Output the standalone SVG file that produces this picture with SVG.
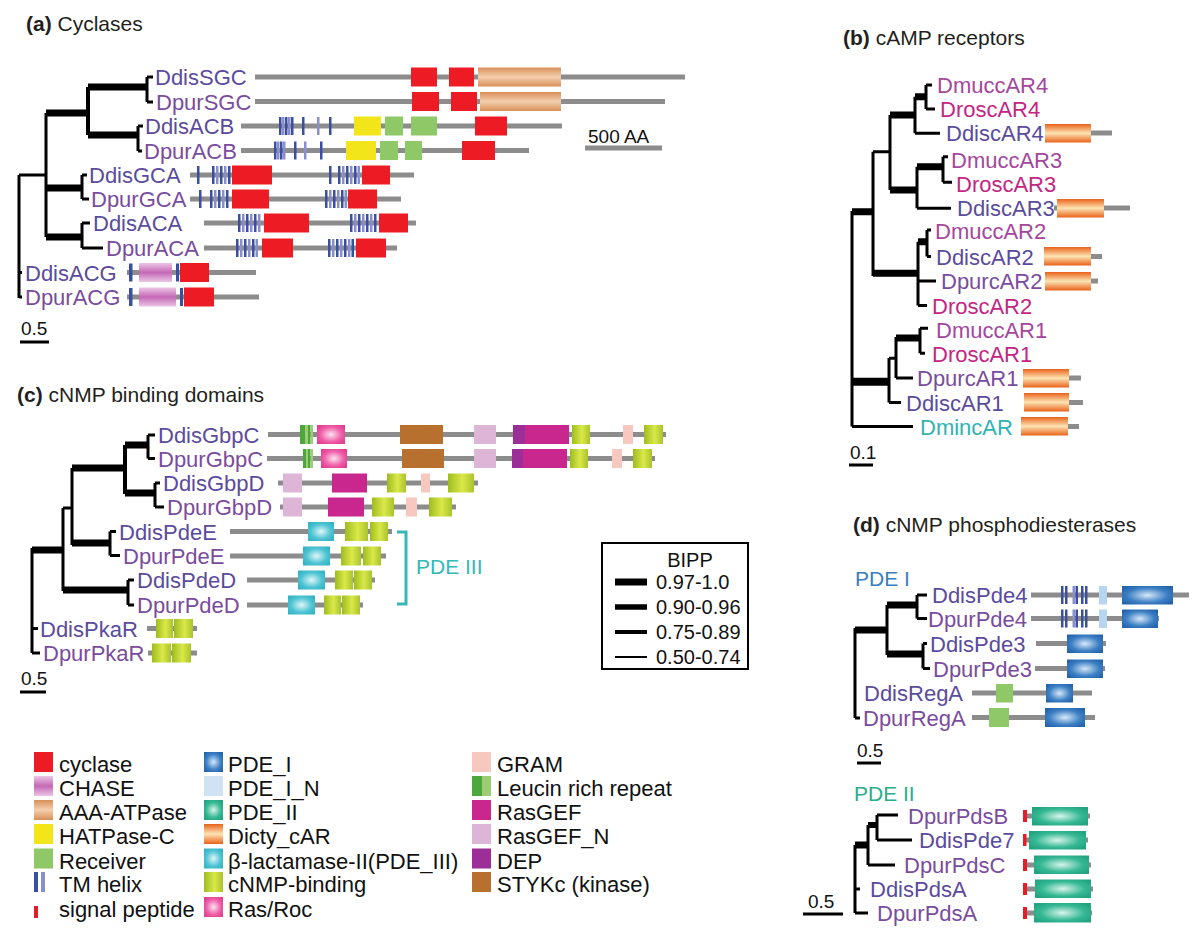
<svg xmlns="http://www.w3.org/2000/svg" width="1200" height="941" viewBox="0 0 1200 941">
<defs>
<style>
text{font-family:"Liberation Sans",Arial,Helvetica,sans-serif}
.lab{font-size:22px}
.ttl{font-size:21px;fill:#231f20}
.ttl tspan.b{font-weight:bold}
.leg{font-size:22px;fill:#111}
.sc{font-size:19px;fill:#111}
.dd{fill:#5a4b9d}
.dp{fill:#7a4c9e}
.dm{fill:#a4479d}
.dr{fill:#c42585}
.dn{fill:#2fb3b3}
.pl{stroke:#8c8c8c;stroke-width:5}
.cyc{fill:#ed1c24}
.hat{fill:#f2e61a}
.rec{fill:#8fc866}
.tm{fill:#3a4ea2}
.tml{fill:#8a8fcb}
.sp{fill:#e31e2a}
.pn{fill:#b5d5f0}
.gram{fill:#f6c8bf}
.lrd{fill:#4ea63f}
.lrl{fill:#9ccd74}
.rgef{fill:#c9268e}
.rgn{fill:#dcb5d7}
.dep{fill:#9b2f97}
.sty{fill:#b8702f}
.chase{fill:url(#gChase)}
.aaa{fill:url(#gAAA)}
.car{fill:url(#gCar)}
.p1{fill:url(#gP1)}
.p2{fill:url(#gP2)}
.bl{fill:url(#gBeta)}
.cn{fill:url(#gCn)}
.ras{fill:url(#gRas)}
.tr{stroke:#000;fill:none;stroke-width:3}
.k{stroke:#000;fill:none;stroke-width:7}
</style>
<linearGradient id="gChase" x1="0" y1="0" x2="0" y2="1"><stop offset="0" stop-color="#ecc6e5"/><stop offset="0.5" stop-color="#c468b6"/><stop offset="1" stop-color="#ecc6e5"/></linearGradient>
<linearGradient id="gAAA" x1="0" y1="0" x2="0" y2="1"><stop offset="0" stop-color="#d88f58"/><stop offset="0.5" stop-color="#f4cfae"/><stop offset="1" stop-color="#d88f58"/></linearGradient>
<linearGradient id="gCar" x1="0" y1="0" x2="0" y2="1"><stop offset="0" stop-color="#e9621a"/><stop offset="0.5" stop-color="#fde4b4"/><stop offset="1" stop-color="#e9621a"/></linearGradient>
<linearGradient id="gCn" x1="0" y1="0" x2="1" y2="0"><stop offset="0" stop-color="#9dbc20"/><stop offset="0.55" stop-color="#dbe849"/><stop offset="1" stop-color="#a8c42b"/></linearGradient>
<radialGradient id="gP1" cx="0.5" cy="0.5" r="0.6"><stop offset="0" stop-color="#d6e8f8"/><stop offset="0.65" stop-color="#3d80c4"/><stop offset="1" stop-color="#2665ad"/></radialGradient>
<radialGradient id="gP2" cx="0.5" cy="0.5" r="0.6"><stop offset="0" stop-color="#d6f4ea"/><stop offset="0.65" stop-color="#35b894"/><stop offset="1" stop-color="#24a582"/></radialGradient>
<radialGradient id="gBeta" cx="0.5" cy="0.5" r="0.6"><stop offset="0" stop-color="#e0f6f9"/><stop offset="0.65" stop-color="#4ec4d3"/><stop offset="1" stop-color="#36b4c4"/></radialGradient>
<radialGradient id="gRas" cx="0.5" cy="0.5" r="0.6"><stop offset="0" stop-color="#fde2f0"/><stop offset="0.65" stop-color="#ef5ca8"/><stop offset="1" stop-color="#e2408f"/></radialGradient>
</defs>
<rect width="1200" height="941" fill="#fff"/>

<!-- Titles -->
<text class="ttl" x="26" y="31"><tspan class="b">(a)</tspan> Cyclases</text>
<text class="ttl" x="843" y="45"><tspan class="b">(b)</tspan> cAMP receptors</text>
<text class="ttl" x="17" y="402"><tspan class="b">(c)</tspan> cNMP binding domains</text>
<text class="ttl" x="853" y="532"><tspan class="b">(d)</tspan> cNMP phosphodiesterases</text>

<!-- Connectors (trees) -->
<g id="connectors">
 <!-- (a) -->
 <path class="tr" d="M19,175V298M19,175H46M46,113V237M147,77V102M147,77H153M147,102H153M138,126V151M138,126H143M138,151H142M82,175V199M82,175H87M82,199H89M82,223V248M82,223H90M82,248H103M19,272.5H22M19,297H22"/>
 <path class="tr" style="stroke-width:4" d="M88,87V135"/>
 <path class="k" d="M46,113H88M46,188H82M46,237H82M88,87H147M88,135H138"/>
 <!-- (b) -->
 <path class="tr" d="M852,211V426.5M852,426.5H913M873,151.7V276M873,151.7H891M890,115V190M915,96.7V133.3M915,133.3H940M926,85V109M926,85H932M926,109H935M917,166.7V208.3M917,208.3H951M943,156.7V182.3M943,156.7H948M943,182.3H952M918,241.7V305.5M918,281H936M918,305.5H927M927,230V256.5M927,230H931M927,256.5H931M889,358V402.5M889,402.5H901M889,358.3H897M896,337V378M896,378H913M920,328.3V353.3M920,328.3H928M920,353.3H925"/>
 <path class="k" d="M852,211.7H874M890,115H916M890,190H918M915,96.7H927M917,166.7H944M873,273.3H919M918,241.7H928M896,338H921"/>
 <path class="k" style="stroke-width:8" d="M852,381.7H890"/>
 <!-- (c) -->
 <path class="tr" d="M32,548V653M32,628.5H38M32,653H40M63,508V591M63,508H72M72,468V545M148,435V458.5M148,435H155M148,458.5H155M155,483V507M155,483H160M155,507H164M110,531.5V555.5M110,531.5H116M110,555.5H120M128,580V605M128,580H134M128,605H134"/>
 <path class="tr" style="stroke-width:4" d="M125,445V494"/>
 <path class="k" d="M32,550H64M63,590H129M72,468H126M72,543H111M125,445H149M125,493H156"/>
 <!-- (d) PDE I -->
 <path class="tr" d="M855,628V718M855,718H860M887,605V655M917,595V618.5M917,595H927M917,618.5H927M923,643.5V668.5M923,643.5H927M923,668.5H930"/>
 <path class="k" d="M855,630H888M887,605H918M887,654H924"/>
 <!-- (d) PDE II -->
 <path class="tr" d="M855,845V913M855,913H868M855,889H860M868,825V865M868,865H895M877,815V840M877,815H898M877,840H912"/>
 <path class="k" d="M855,845H869"/>
 <path class="k" style="stroke-width:6" d="M868,825H877"/>
</g>

<!-- (a) Cyclases nodes -->
<g id="a-DdisSGC">
 <text class="lab dd" x="155" y="85">DdisSGC</text>
 <line class="pl" x1="255" y1="77" x2="685" y2="77"/>
 <rect class="cyc" x="411" y="67.5" width="26" height="19"/><rect class="cyc" x="449" y="67.5" width="25" height="19"/><rect class="aaa" x="478" y="67.5" width="83" height="19"/>
</g>
<g id="a-DpurSGC">
 <text class="lab dp" x="156" y="109.5">DpurSGC</text>
 <line class="pl" x1="255" y1="101.5" x2="665" y2="101.5"/>
 <rect class="cyc" x="412" y="92" width="27" height="19"/><rect class="cyc" x="451" y="92" width="26" height="19"/><rect class="aaa" x="480" y="92" width="81" height="19"/>
</g>
<g id="a-DdisACB">
 <text class="lab dd" x="145" y="134">DdisACB</text>
 <line class="pl" x1="241" y1="126" x2="562" y2="126"/>
 <rect class="tm" x="279" y="117" width="2.5" height="18"/><rect class="tml" x="282" y="117" width="2.5" height="18"/><rect class="tm" x="285" y="117" width="2.5" height="18"/><rect class="tml" x="288" y="117" width="2.5" height="18"/><rect class="tm" x="291" y="117" width="2.5" height="18"/><rect class="tm" x="302" y="117" width="2.5" height="18"/><rect class="tml" x="317" y="117" width="2.5" height="18"/><rect class="tm" x="329" y="117" width="2.5" height="18"/>
 <rect class="hat" x="354" y="116.5" width="27" height="19"/><rect class="rec" x="385" y="116.5" width="18" height="19"/><rect class="rec" x="411" y="116.5" width="26" height="19"/><rect class="cyc" x="475" y="116.5" width="32" height="19"/>
</g>
<g id="a-DpurACB">
 <text class="lab dp" x="144" y="158.5">DpurACB</text>
 <line class="pl" x1="241" y1="150.5" x2="529" y2="150.5"/>
 <rect class="tm" x="274" y="141.5" width="2.5" height="18"/><rect class="tml" x="277" y="141.5" width="2.5" height="18"/><rect class="tm" x="280" y="141.5" width="2.5" height="18"/><rect class="tml" x="283" y="141.5" width="2.5" height="18"/><rect class="tm" x="294" y="141.5" width="2.5" height="18"/><rect class="tml" x="304" y="141.5" width="2.5" height="18"/><rect class="tm" x="320" y="141.5" width="2.5" height="18"/>
 <rect class="hat" x="346" y="141" width="30" height="19"/><rect class="rec" x="380" y="141" width="18" height="19"/><rect class="rec" x="405" y="141" width="17" height="19"/><rect class="cyc" x="462" y="141" width="33" height="19"/>
</g>
<g id="a-DdisGCA">
 <text class="lab dd" x="89" y="183">DdisGCA</text>
 <line class="pl" x1="190" y1="175" x2="414" y2="175"/>
 <rect class="tm" x="197" y="166" width="2.5" height="18"/><rect class="tm" x="212" y="166" width="2.5" height="18"/><rect class="tml" x="216" y="166" width="2.5" height="18"/><rect class="tm" x="220" y="166" width="2.5" height="18"/><rect class="tml" x="224" y="166" width="2.5" height="18"/><rect class="tm" x="228" y="166" width="2.5" height="18"/>
 <rect class="cyc" x="232" y="165.5" width="40" height="19"/>
 <rect class="tm" x="329" y="166" width="2.5" height="18"/><rect class="tm" x="338" y="166" width="2.5" height="18"/><rect class="tml" x="342" y="166" width="2.5" height="18"/><rect class="tm" x="346" y="166" width="2.5" height="18"/><rect class="tml" x="350" y="166" width="2.5" height="18"/><rect class="tm" x="354" y="166" width="2.5" height="18"/><rect class="tml" x="357.5" y="166" width="2.5" height="18"/>
 <rect class="cyc" x="362" y="165.5" width="28" height="19"/>
</g>
<g id="a-DpurGCA">
 <text class="lab dp" x="91" y="207">DpurGCA</text>
 <line class="pl" x1="190" y1="199" x2="401" y2="199"/>
 <rect class="tm" x="199" y="190" width="2.5" height="18"/><rect class="tm" x="210" y="190" width="2.5" height="18"/><rect class="tml" x="214" y="190" width="2.5" height="18"/><rect class="tm" x="218" y="190" width="2.5" height="18"/><rect class="tml" x="222" y="190" width="2.5" height="18"/><rect class="tm" x="226" y="190" width="2.5" height="18"/>
 <rect class="cyc" x="232" y="189.5" width="37" height="19"/>
 <rect class="tm" x="325" y="190" width="2.5" height="18"/><rect class="tml" x="329" y="190" width="2.5" height="18"/><rect class="tm" x="333" y="190" width="2.5" height="18"/><rect class="tml" x="337" y="190" width="2.5" height="18"/><rect class="tm" x="341" y="190" width="2.5" height="18"/><rect class="tml" x="344.5" y="190" width="2.5" height="18"/>
 <rect class="cyc" x="348" y="189.5" width="29" height="19"/>
</g>
<g id="a-DdisACA">
 <text class="lab dd" x="93" y="231">DdisACA</text>
 <line class="pl" x1="204" y1="223" x2="416" y2="223"/>
 <rect class="tm" x="238" y="214" width="2.5" height="18"/><rect class="tml" x="242" y="214" width="2.5" height="18"/><rect class="tm" x="246" y="214" width="2.5" height="18"/><rect class="tml" x="250" y="214" width="2.5" height="18"/><rect class="tm" x="254" y="214" width="2.5" height="18"/><rect class="tml" x="258" y="214" width="2.5" height="18"/>
 <rect class="cyc" x="264" y="213.5" width="45" height="19"/>
 <rect class="tm" x="350" y="214" width="2.5" height="18"/><rect class="tml" x="354" y="214" width="2.5" height="18"/><rect class="tm" x="358" y="214" width="2.5" height="18"/><rect class="tml" x="362" y="214" width="2.5" height="18"/><rect class="tm" x="366" y="214" width="2.5" height="18"/><rect class="tml" x="370" y="214" width="2.5" height="18"/><rect class="tm" x="374" y="214" width="2.5" height="18"/>
 <rect class="cyc" x="379" y="213.5" width="29" height="19"/>
</g>
<g id="a-DpurACA">
 <text class="lab dp" x="106" y="256">DpurACA</text>
 <line class="pl" x1="204" y1="248" x2="397" y2="248"/>
 <rect class="tm" x="236" y="239" width="2.5" height="18"/><rect class="tml" x="240" y="239" width="2.5" height="18"/><rect class="tm" x="244" y="239" width="2.5" height="18"/><rect class="tml" x="248" y="239" width="2.5" height="18"/><rect class="tm" x="252" y="239" width="2.5" height="18"/><rect class="tml" x="255.5" y="239" width="2.5" height="18"/>
 <rect class="cyc" x="262" y="238.5" width="31" height="19"/>
 <rect class="tm" x="328" y="239" width="2.5" height="18"/><rect class="tml" x="332" y="239" width="2.5" height="18"/><rect class="tm" x="336" y="239" width="2.5" height="18"/><rect class="tml" x="340" y="239" width="2.5" height="18"/><rect class="tm" x="344" y="239" width="2.5" height="18"/><rect class="tml" x="348" y="239" width="2.5" height="18"/><rect class="tm" x="351.5" y="239" width="2.5" height="18"/>
 <rect class="cyc" x="356" y="238.5" width="30" height="19"/>
</g>
<g id="a-DdisACG">
 <text class="lab dd" x="25" y="280.5">DdisACG</text>
 <line class="pl" x1="127" y1="272.5" x2="256" y2="272.5"/>
 <rect class="tm" x="129" y="263.5" width="3.5" height="18"/><rect class="chase" x="139" y="263" width="33" height="19"/><rect class="tm" x="176" y="263.5" width="3" height="18"/><rect class="cyc" x="180" y="263" width="29" height="19"/>
</g>
<g id="a-DpurACG">
 <text class="lab dp" x="25" y="305">DpurACG</text>
 <line class="pl" x1="127" y1="297" x2="259" y2="297"/>
 <rect class="tm" x="129" y="288" width="3.5" height="18"/><rect class="chase" x="139" y="287.5" width="37" height="19"/><rect class="tm" x="180" y="288" width="3" height="18"/><rect class="cyc" x="184" y="287.5" width="30" height="19"/>
</g>
<g id="a-scales">
 <text class="sc" x="588" y="143">500 AA</text>
 <line class="pl" x1="585" y1="148" x2="662" y2="148"/>
 <text class="sc" x="21" y="335">0.5</text>
 <line x1="20" y1="342" x2="49" y2="342" stroke="#000" stroke-width="3"/>
</g>

<!-- (b) cAMP receptors -->
<g id="b-DmuccAR4"><text class="lab dm" x="937" y="93">DmuccAR4</text></g>
<g id="b-DroscAR4"><text class="lab dr" x="940" y="117">DroscAR4</text></g>
<g id="b-DdiscAR4"><text class="lab dd" x="946" y="141">DdiscAR4</text><line class="pl" x1="1088" y1="133" x2="1112" y2="133"/><rect class="car" x="1045" y="124" width="46" height="18.5"/></g>
<g id="b-DmuccAR3"><text class="lab dm" x="951" y="168">DmuccAR3</text></g>
<g id="b-DroscAR3"><text class="lab dr" x="956" y="191.5">DroscAR3</text></g>
<g id="b-DdiscAR3"><text class="lab dd" x="957" y="216">DdiscAR3</text><line class="pl" x1="1054" y1="208" x2="1130" y2="208"/><rect class="car" x="1057" y="199" width="47" height="18.5"/></g>
<g id="b-DmuccAR2"><text class="lab dm" x="935" y="239">DmuccAR2</text></g>
<g id="b-DdiscAR2"><text class="lab dd" x="936" y="264.5">DdiscAR2</text><line class="pl" x1="1088" y1="256.5" x2="1102" y2="256.5"/><rect class="car" x="1044" y="247" width="47" height="18.5"/></g>
<g id="b-DpurcAR2"><text class="lab dp" x="941" y="289">DpurcAR2</text><line class="pl" x1="1088" y1="281" x2="1098" y2="281"/><rect class="car" x="1045" y="272" width="46" height="18.5"/></g>
<g id="b-DroscAR2"><text class="lab dr" x="932" y="313.5">DroscAR2</text></g>
<g id="b-DmuccAR1"><text class="lab dm" x="936" y="338">DmuccAR1</text></g>
<g id="b-DroscAR1"><text class="lab dr" x="932" y="361.5">DroscAR1</text></g>
<g id="b-DpurcAR1"><text class="lab dp" x="917" y="386">DpurcAR1</text><line class="pl" x1="1066" y1="378" x2="1081" y2="378"/><rect class="car" x="1023" y="369" width="46" height="18.5"/></g>
<g id="b-DdiscAR1"><text class="lab dd" x="906" y="410.5">DdiscAR1</text><line class="pl" x1="1066" y1="402.5" x2="1083" y2="402.5"/><rect class="car" x="1024" y="393" width="45" height="18.5"/></g>
<g id="b-DmincAR"><text class="lab dn" x="920" y="434.5">DmincAR</text><line class="pl" x1="1065" y1="426.5" x2="1079" y2="426.5"/><rect class="car" x="1021" y="417" width="47" height="18.5"/></g>
<g id="b-scale"><text class="sc" x="850" y="459">0.1</text><line x1="849" y1="465" x2="873" y2="465" stroke="#000" stroke-width="3"/></g>

<!-- (c) cNMP binding domains -->
<g id="c-DdisGbpC">
 <text class="lab dd" x="158" y="443">DdisGbpC</text>
 <line class="pl" x1="268" y1="434.5" x2="666" y2="434.5"/>
 <rect class="lrd" x="300" y="425" width="5" height="19"/><rect class="lrl" x="305" y="425" width="3" height="19"/><rect class="lrd" x="308" y="425" width="2.5" height="19"/><rect class="lrl" x="310.5" y="425" width="2.5" height="19"/>
 <rect class="ras" x="317" y="425" width="28" height="19"/><rect class="sty" x="400" y="425" width="43" height="19"/><rect class="rgn" x="474" y="425" width="22" height="19"/><rect class="dep" x="513" y="425" width="12" height="19"/><rect class="rgef" x="525" y="425" width="44" height="19"/><rect class="cn" x="572" y="425" width="18" height="19"/><rect class="gram" x="623" y="425" width="10" height="19"/><rect class="cn" x="644" y="425" width="19" height="19"/>
</g>
<g id="c-DpurGbpC">
 <text class="lab dp" x="158" y="466.5">DpurGbpC</text>
 <line class="pl" x1="267" y1="458.5" x2="655" y2="458.5"/>
 <rect class="lrd" x="303" y="449" width="3" height="19"/><rect class="lrl" x="306" y="449" width="2" height="19"/><rect class="lrd" x="308" y="449" width="2.5" height="19"/><rect class="lrl" x="310.5" y="449" width="2.5" height="19"/>
 <rect class="ras" x="321" y="449" width="26" height="19"/><rect class="sty" x="402" y="449" width="42" height="19"/><rect class="rgn" x="474" y="449" width="22" height="19"/><rect class="dep" x="512" y="449" width="11" height="19"/><rect class="rgef" x="523" y="449" width="44" height="19"/><rect class="cn" x="570" y="449" width="18" height="19"/><rect class="gram" x="612" y="449" width="10" height="19"/><rect class="cn" x="633" y="449" width="19" height="19"/>
</g>
<g id="c-DdisGbpD">
 <text class="lab dd" x="163" y="491">DdisGbpD</text>
 <line class="pl" x1="278" y1="483" x2="478" y2="483"/>
 <rect class="rgn" x="283" y="473.5" width="19" height="19"/><rect class="rgef" x="332" y="473.5" width="35" height="19"/><rect class="cn" x="387" y="473.5" width="19" height="19"/><rect class="gram" x="421" y="473.5" width="9" height="19"/><rect class="cn" x="448" y="473.5" width="26" height="19"/>
</g>
<g id="c-DpurGbpD">
 <text class="lab dp" x="167" y="515">DpurGbpD</text>
 <line class="pl" x1="280" y1="507" x2="456" y2="507"/>
 <rect class="rgn" x="283" y="497.5" width="19" height="19"/><rect class="rgef" x="328" y="497.5" width="36" height="19"/><rect class="cn" x="372" y="497.5" width="22" height="19"/><rect class="gram" x="406" y="497.5" width="11" height="19"/><rect class="cn" x="429" y="497.5" width="23" height="19"/>
</g>
<g id="c-DdisPdeE">
 <text class="lab dd" x="119" y="539.5">DdisPdeE</text>
 <line class="pl" x1="230" y1="531.5" x2="392" y2="531.5"/>
 <rect class="bl" x="308" y="522" width="26" height="19"/><rect class="cn" x="345" y="522" width="23" height="19"/><rect class="cn" x="370" y="522" width="18" height="19"/>
</g>
<g id="c-DpurPdeE">
 <text class="lab dp" x="123" y="564">DpurPdeE</text>
 <line class="pl" x1="230" y1="556" x2="386" y2="556"/>
 <rect class="bl" x="303" y="546.5" width="27" height="19"/><rect class="cn" x="341" y="546.5" width="20" height="19"/><rect class="cn" x="363" y="546.5" width="18" height="19"/>
</g>
<g id="c-DdisPdeD">
 <text class="lab dd" x="137" y="588">DdisPdeD</text>
 <line class="pl" x1="247" y1="580" x2="375" y2="580"/>
 <rect class="bl" x="298" y="570.5" width="27" height="19"/><rect class="cn" x="335" y="570.5" width="18" height="19"/><rect class="cn" x="354" y="570.5" width="18" height="19"/>
</g>
<g id="c-DpurPdeD">
 <text class="lab dp" x="137" y="613">DpurPdeD</text>
 <line class="pl" x1="247" y1="605" x2="363" y2="605"/>
 <rect class="bl" x="288" y="595.5" width="27" height="19"/><rect class="cn" x="324" y="595.5" width="17" height="19"/><rect class="cn" x="342" y="595.5" width="18" height="19"/>
</g>
<g id="c-DdisPkaR">
 <text class="lab dd" x="40" y="636.5">DdisPkaR</text>
 <line class="pl" x1="147" y1="628.5" x2="197" y2="628.5"/>
 <rect class="cn" x="156" y="619" width="17" height="19"/><rect class="cn" x="174" y="619" width="19" height="19"/>
</g>
<g id="c-DpurPkaR">
 <text class="lab dp" x="43" y="661">DpurPkaR</text>
 <line class="pl" x1="148" y1="653" x2="197" y2="653"/>
 <rect class="cn" x="152" y="643.5" width="19" height="19"/><rect class="cn" x="172" y="643.5" width="19" height="19"/>
</g>
<g id="c-PDEIII">
 <path d="M397,532H406V604H397" fill="none" stroke="#35b8b8" stroke-width="3"/>
 <text x="416" y="574" font-size="21" fill="#35b8b8">PDE III</text>
</g>
<g id="c-scale"><text class="sc" x="21" y="685">0.5</text><line x1="20" y1="692" x2="46" y2="692" stroke="#000" stroke-width="3"/></g>

<!-- BIPP legend -->
<g id="bipp">
 <rect x="602" y="543" width="146" height="126" fill="#fff" stroke="#000" stroke-width="2"/>
 <text x="690" y="567" font-size="20" text-anchor="middle" fill="#111">BIPP</text>
 <line x1="615" y1="582" x2="647" y2="582" stroke="#000" stroke-width="7"/>
 <line x1="615" y1="607" x2="647" y2="607" stroke="#000" stroke-width="5.5"/>
 <line x1="615" y1="632" x2="647" y2="632" stroke="#000" stroke-width="4"/>
 <line x1="615" y1="657" x2="647" y2="657" stroke="#000" stroke-width="2"/>
 <text x="656" y="589" font-size="20" fill="#111">0.97-1.0</text>
 <text x="656" y="614" font-size="20" fill="#111">0.90-0.96</text>
 <text x="656" y="639" font-size="20" fill="#111">0.75-0.89</text>
 <text x="656" y="664" font-size="20" fill="#111">0.50-0.74</text>
</g>

<!-- (d) PDE I -->
<text x="855" y="586" font-size="21" fill="#3a7dc0">PDE I</text>
<g id="d-DdisPde4">
 <text class="lab dd" x="932" y="603">DdisPde4</text>
 <line class="pl" x1="1031" y1="595" x2="1189" y2="595"/>
 <rect class="tm" x="1061" y="586" width="2.5" height="18"/><rect class="tm" x="1065" y="586" width="2.5" height="18"/><rect class="tml" x="1072.5" y="586" width="2.5" height="18"/><rect class="tm" x="1075.5" y="586" width="2.5" height="18"/><rect class="tm" x="1081" y="586" width="2.5" height="18"/><rect class="tm" x="1085" y="586" width="2.5" height="18"/>
 <rect class="pn" x="1099" y="586" width="8" height="18.5"/><rect class="p1" x="1122" y="586" width="51" height="18.5"/>
</g>
<g id="d-DpurPde4">
 <text class="lab dp" x="928" y="626.5">DpurPde4</text>
 <line class="pl" x1="1031" y1="618.5" x2="1159" y2="618.5"/>
 <rect class="tm" x="1061" y="609.5" width="2.5" height="18"/><rect class="tm" x="1065" y="609.5" width="2.5" height="18"/><rect class="tml" x="1072.5" y="609.5" width="2.5" height="18"/><rect class="tm" x="1075.5" y="609.5" width="2.5" height="18"/><rect class="tm" x="1081" y="609.5" width="2.5" height="18"/><rect class="tm" x="1085" y="609.5" width="2.5" height="18"/>
 <rect class="pn" x="1099" y="609.5" width="8" height="18.5"/><rect class="p1" x="1122" y="609.5" width="36" height="18.5"/>
</g>
<g id="d-DdisPde3">
 <text class="lab dd" x="930" y="651.5">DdisPde3</text>
 <line class="pl" x1="1036" y1="643.5" x2="1106" y2="643.5"/>
 <rect class="p1" x="1067" y="634.5" width="36" height="18.5"/>
</g>
<g id="d-DpurPde3">
 <text class="lab dp" x="933" y="676.5">DpurPde3</text>
 <line class="pl" x1="1035" y1="668.5" x2="1105" y2="668.5"/>
 <rect class="p1" x="1067" y="659.5" width="36" height="18.5"/>
</g>
<g id="d-DdisRegA">
 <text class="lab dd" x="864" y="701">DdisRegA</text>
 <line class="pl" x1="972" y1="693" x2="1092" y2="693"/>
 <rect class="rec" x="996" y="684" width="17" height="18.5"/><rect class="p1" x="1046" y="684" width="27" height="18.5"/>
</g>
<g id="d-DpurRegA">
 <text class="lab dp" x="863" y="725.5">DpurRegA</text>
 <line class="pl" x1="972" y1="717.5" x2="1095" y2="717.5"/>
 <rect class="rec" x="989" y="708" width="20" height="19"/><rect class="p1" x="1045" y="708" width="40" height="19"/>
</g>
<g id="d-scale1"><text class="sc" x="857" y="757">0.5</text><line x1="857" y1="763" x2="881" y2="763" stroke="#000" stroke-width="3"/></g>

<!-- (d) PDE II -->
<text x="854" y="801" font-size="21" fill="#2aae8a">PDE II</text>
<g id="d-DpurPdsB">
 <text class="lab dp" x="908" y="824">DpurPdsB</text>
 <line class="pl" x1="1024" y1="816" x2="1090" y2="816"/>
 <rect class="sp" x="1023" y="810" width="4" height="12"/><rect class="p2" x="1032" y="807" width="56" height="18.5"/>
</g>
<g id="d-DdisPde7">
 <text class="lab dd" x="919" y="848">DdisPde7</text>
 <line class="pl" x1="1024" y1="840" x2="1088" y2="840"/>
 <rect class="sp" x="1023" y="834" width="3.5" height="12"/><rect class="p2" x="1029" y="831" width="57" height="18.5"/>
</g>
<g id="d-DpurPdsC">
 <text class="lab dp" x="904" y="873">DpurPdsC</text>
 <line class="pl" x1="1024" y1="865" x2="1091" y2="865"/>
 <rect class="sp" x="1023" y="859" width="4" height="12"/><rect class="p2" x="1034" y="855.5" width="55" height="18.5"/>
</g>
<g id="d-DdisPdsA">
 <text class="lab dd" x="870" y="897">DdisPdsA</text>
 <line class="pl" x1="1024" y1="889" x2="1093" y2="889"/>
 <rect class="sp" x="1023" y="883" width="4" height="12"/><rect class="p2" x="1035" y="879.5" width="56" height="18.5"/>
</g>
<g id="d-DpurPdsA">
 <text class="lab dp" x="877" y="921">DpurPdsA</text>
 <line class="pl" x1="1024" y1="913" x2="1092" y2="913"/>
 <rect class="sp" x="1023" y="907" width="4" height="12"/><rect class="p2" x="1034" y="903" width="57" height="19.5"/>
</g>
<g id="d-scale2"><text class="sc" x="808" y="908">0.5</text><line x1="803" y1="914" x2="843" y2="914" stroke="#000" stroke-width="3"/></g>

<!-- Domain legend -->
<g id="legend">
 <rect class="cyc" x="34" y="752" width="19" height="20"/><text class="leg" x="59" y="772">cyclase</text>
 <rect class="chase" x="34" y="776" width="19" height="20"/><text class="leg" x="59" y="796">CHASE</text>
 <rect class="aaa" x="34" y="800" width="19" height="20"/><text class="leg" x="59" y="820">AAA-ATPase</text>
 <rect class="hat" x="34" y="824" width="19" height="20"/><text class="leg" x="59" y="844">HATPase-C</text>
 <rect class="rec" x="34" y="848.5" width="19" height="20"/><text class="leg" x="59" y="868.5">Receiver</text>
 <rect class="tm" x="34" y="872" width="4" height="20"/><rect class="tml" x="41" y="872" width="4" height="20"/><text class="leg" x="59" y="892">TM helix</text>
 <rect class="sp" x="34" y="906" width="4" height="12"/><text class="leg" x="59" y="917">signal peptide</text>

 <rect class="p1" x="204" y="752" width="19" height="20"/><text class="leg" x="228" y="772">PDE_I</text>
 <rect class="pn" x="204" y="776" width="19" height="20" style="fill:#cfe3f5"/><text class="leg" x="228" y="796">PDE_I_N</text>
 <rect class="p2" x="204" y="800" width="19" height="20"/><text class="leg" x="228" y="820">PDE_II</text>
 <rect class="car" x="204" y="824" width="19" height="20"/><text class="leg" x="228" y="844">Dicty_cAR</text>
 <rect class="bl" x="204" y="848.5" width="19" height="20"/><text class="leg" x="228" y="868.5">β-lactamase-II(PDE_III)</text>
 <rect class="cn" x="204" y="872" width="19" height="20"/><text class="leg" x="228" y="892">cNMP-binding</text>
 <rect class="ras" x="204" y="897" width="19" height="20"/><text class="leg" x="228" y="917">Ras/Roc</text>

 <rect class="gram" x="472" y="752" width="19" height="20"/><text class="leg" x="497" y="772">GRAM</text>
 <rect class="lrd" x="472" y="776" width="10" height="20"/><rect class="lrl" x="482" y="776" width="9" height="20"/><text class="leg" x="497" y="796">Leucin rich repeat</text>
 <rect class="rgef" x="472" y="800" width="19" height="20"/><text class="leg" x="497" y="820">RasGEF</text>
 <rect class="rgn" x="472" y="824" width="19" height="20"/><text class="leg" x="497" y="844">RasGEF_N</text>
 <rect class="dep" x="472" y="848.5" width="19" height="20"/><text class="leg" x="497" y="868.5">DEP</text>
 <rect class="sty" x="472" y="872" width="19" height="20"/><text class="leg" x="497" y="892">STYKc (kinase)</text>
</g>
</svg>
